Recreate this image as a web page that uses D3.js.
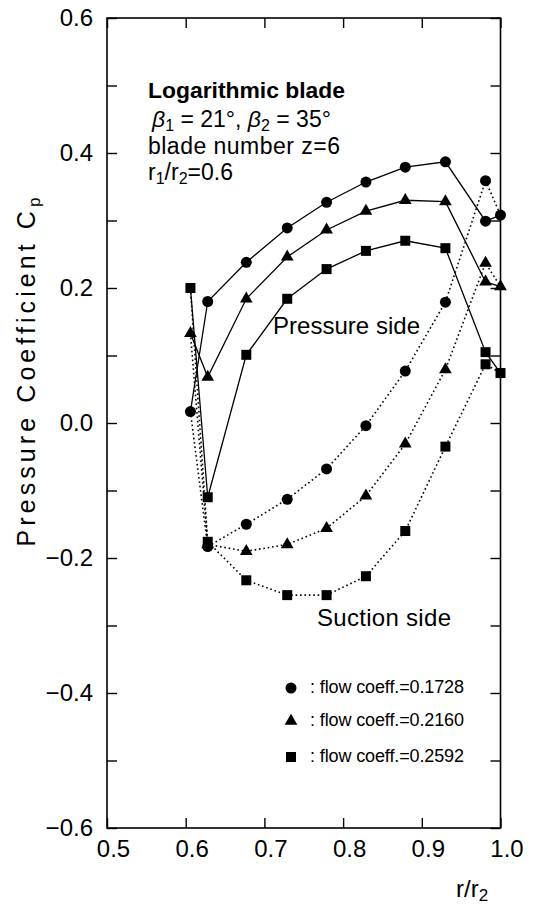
<!DOCTYPE html>
<html>
<head>
<meta charset="utf-8">
<script src="https://cdn.jsdelivr.net/npm/d3@7"></script>
<style>
  body { margin: 0; background: #fff; }
  text { font-family: "Liberation Sans", Arial, sans-serif; fill: #000; }
</style>
</head>
<body>
<script>
// r/r2 stations (leading edge .. trailing edge)
const rStations = [0.606, 0.628, 0.677, 0.729, 0.779, 0.829, 0.879, 0.930, 0.981, 1.0];

// pressure side Cp (solid lines)
const pressCircle   = [0.017, 0.180, 0.238, 0.289, 0.327, 0.357, 0.379, 0.387, 0.299, 0.308];
const pressTriangle = [0.133, 0.068, 0.184, 0.246, 0.286, 0.314, 0.330, 0.328, 0.209, 0.202];
const pressSquare   = [0.200, -0.110, 0.101, 0.184, 0.228, 0.255, 0.270, 0.259, 0.105, 0.074];

// suction side Cp (dotted lines)
const suctCircle   = [0.017, -0.183, -0.150, -0.113, -0.068, -0.004, 0.077, 0.179, 0.359, 0.308];
const suctTriangle = [0.133, -0.180, -0.190, -0.180, -0.156, -0.108, -0.031, 0.079, 0.237, 0.202];
const suctSquare   = [0.200, -0.176, -0.233, -0.255, -0.255, -0.227, -0.160, -0.035, 0.087, 0.074];

const flowCoeffs = ["0.1728", "0.2160", "0.2592"];
const xTicks = [0.5, 0.6, 0.7, 0.8, 0.9, 1.0];
const yTicks = [-0.6, -0.5, -0.4, -0.3, -0.2, -0.1, 0.0, 0.1, 0.2, 0.3, 0.4, 0.5, 0.6];

let width = 534, height = 911;

let svg = d3.select("body").append("svg")
  .attr("width", width)
  .attr("height", height);

let x = d3.scaleLinear().domain([0.5, 1.0]).range([107, 500.5]);
let y = d3.scaleLinear().domain([-0.6, 0.6]).range([828, 18]);

let labelled = (d) => Math.abs(Math.round(d * 10)) % 2 == 0;

// axes, ticks pointing inward
let axL = svg.append("g").attr("transform", "translate(" + x(0.5) + ",0)")
  .call(d3.axisLeft(y).tickValues(yTicks).tickSize(-10).tickPadding(14)
    .tickFormat((d) => labelled(d) ? d3.format(".1f")(d) : ""));
let axR = svg.append("g").attr("transform", "translate(" + x(1.0) + ",0)")
  .call(d3.axisRight(y).tickValues(yTicks).tickSize(-10).tickFormat(""));
let axB = svg.append("g").attr("transform", "translate(0," + y(-0.6) + ")")
  .call(d3.axisBottom(x).tickValues(xTicks).tickSize(-10).tickPadding(12)
    .tickFormat(d3.format(".1f")));
let axT = svg.append("g").attr("transform", "translate(0," + y(0.6) + ")")
  .call(d3.axisTop(x).tickValues(xTicks).tickSize(-10).tickFormat(""));

[axL, axR, axB, axT].forEach((g) => {
  g.select(".domain").remove();
  g.selectAll("line").attr("stroke", "#000").attr("stroke-width", 1.4);
  g.selectAll("text").attr("font-size", 24).attr("font-family", null);
});
axB.selectAll("text").attr("dx", 6);

svg.append("rect")
  .attr("x", x(0.5)).attr("y", y(0.6))
  .attr("width", x(1.0) - x(0.5)).attr("height", y(-0.6) - y(0.6))
  .attr("fill", "none").attr("stroke", "#000").attr("stroke-width", 1.6);

// series
let series = [
  { p: pressCircle, s: suctCircle, sym: d3.symbolCircle, size: 95 },
  { p: pressTriangle, s: suctTriangle, sym: d3.symbolTriangle, size: 70 },
  { p: pressSquare, s: suctSquare, sym: d3.symbolSquare, size: 100 }
];

let line = d3.line().x((d) => x(d[0])).y((d) => y(d[1]));

series.forEach((ser) => {
  let pPts = rStations.map((r, i) => [r, ser.p[i]]);
  let sPts = rStations.map((r, i) => [r, ser.s[i]]);

  svg.append("path").datum(pPts)
    .attr("d", line)
    .attr("fill", "none").attr("stroke", "#000").attr("stroke-width", 1.3);

  svg.append("path").datum(sPts)
    .attr("d", line)
    .attr("fill", "none").attr("stroke", "#000").attr("stroke-width", 1.6)
    .attr("stroke-dasharray", "1.6 2.8");

  // markers (leading & trailing points shared)
  let marks = pPts.concat(sPts.slice(1, sPts.length - 1));
  svg.append("g").selectAll("path").data(marks).enter().append("path")
    .attr("transform", (d) => "translate(" + x(d[0]) + "," + y(d[1]) + ")")
    .attr("d", d3.symbol().type(ser.sym).size(ser.size))
    .attr("fill", "#000");
});

// annotation block
let note = svg.append("g");
note.append("text").attr("x", 148).attr("y", 98)
  .attr("font-size", 22).attr("font-weight", "bold")
  .attr("textLength", 197).attr("lengthAdjust", "spacingAndGlyphs")
  .text("Logarithmic blade");

let t2 = note.append("text").attr("x", 152).attr("y", 127).attr("font-size", 23);
t2.append("tspan").attr("font-style", "italic").text("β");
t2.append("tspan").attr("font-size", 16).attr("dy", 4).text("1");
t2.append("tspan").attr("dy", -4).text(" = 21°, ");
t2.append("tspan").attr("font-style", "italic").text("β");
t2.append("tspan").attr("font-size", 16).attr("dy", 4).text("2");
t2.append("tspan").attr("dy", -4).text(" = 35°");

note.append("text").attr("x", 148).attr("y", 154)
  .attr("font-size", 23)
  .attr("textLength", 192).attr("lengthAdjust", "spacing")
  .text("blade number z=6");

let t4 = note.append("text").attr("x", 148).attr("y", 180).attr("font-size", 23);
t4.append("tspan").text("r");
t4.append("tspan").attr("font-size", 16).attr("dy", 4).text("1");
t4.append("tspan").attr("dy", -4).text("/r");
t4.append("tspan").attr("font-size", 16).attr("dy", 4).text("2");
t4.append("tspan").attr("dy", -4).text("=0.6");

svg.append("text").attr("x", 273).attr("y", 334)
  .attr("font-size", 24).attr("textLength", 147).attr("lengthAdjust", "spacing")
  .text("Pressure side");

svg.append("text").attr("x", 317).attr("y", 626)
  .attr("font-size", 24).attr("textLength", 134).attr("lengthAdjust", "spacing")
  .text("Suction side");

// legend
let legSyms = [d3.symbolCircle, d3.symbolTriangle, d3.symbolSquare];
let legY = [688, 721, 757];
flowCoeffs.forEach((fc, i) => {
  svg.append("path")
    .attr("transform", "translate(291," + legY[i] + ")")
    .attr("d", d3.symbol().type(legSyms[i]).size(series[i].size))
    .attr("fill", "#000");
  svg.append("text").attr("x", 310).attr("y", legY[i] + 5)
    .attr("font-size", 18).attr("textLength", 154).attr("lengthAdjust", "spacing")
    .text(": flow coeff.=" + fc);
});

// axis titles
let yt = svg.append("text")
  .attr("transform", "translate(35,372) rotate(-90)")
  .attr("text-anchor", "middle")
  .attr("font-size", 25)
  .attr("textLength", 349).attr("lengthAdjust", "spacing");
yt.append("tspan").text("Pressure Coefficient C");
yt.append("tspan").attr("font-size", 17).attr("dy", 5).text("p");

let xt = svg.append("text").attr("x", 456).attr("y", 897).attr("font-size", 24);
xt.append("tspan").text("r/r");
xt.append("tspan").attr("font-size", 17).attr("dy", 4).text("2");
</script>
</body>
</html>
